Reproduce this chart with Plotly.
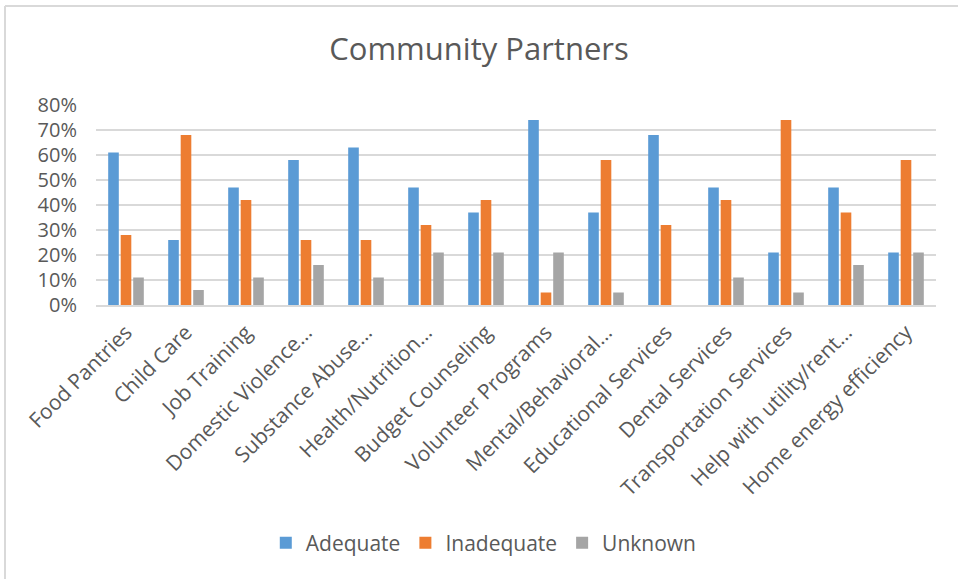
import plotly.graph_objects as go

categories = [
    "Food Pantries", "Child Care", "Job Training", "Domestic Violence…",
    "Substance Abuse…", "Health/Nutrition…", "Budget Counseling",
    "Volunteer Programs", "Mental/Behavioral…", "Educational Services",
    "Dental Services", "Transportation Services", "Help with utility/rent…",
    "Home energy efficiency",
]
adequate = [0.61, 0.26, 0.47, 0.58, 0.63, 0.47, 0.37, 0.74, 0.37, 0.68, 0.47, 0.21, 0.47, 0.21]
inadequate = [0.28, 0.68, 0.42, 0.26, 0.26, 0.32, 0.42, 0.05, 0.58, 0.32, 0.42, 0.74, 0.37, 0.58]
unknown = [0.11, 0.06, 0.11, 0.16, 0.11, 0.21, 0.21, 0.21, 0.05, 0.00, 0.11, 0.05, 0.16, 0.21]

series = [
    ("Adequate", adequate, "#5B9BD5"),
    ("Inadequate", inadequate, "#ED7D31"),
    ("Unknown", unknown, "#A5A5A5"),
]

FONT = "Open Sans"
TEXT = "#595959"

fig = go.Figure()
for name, vals, color in series:
    fig.add_trace(go.Bar(
        x=categories, y=vals, name=name,
        marker=dict(color=color, line=dict(width=0)),
    ))

fig.update_layout(
    width=958, height=579,
    margin=dict(l=96, r=22, t=105, b=274),
    paper_bgcolor="white", plot_bgcolor="white",
    barmode="group", bargap=0.375, bargroupgap=0.15,
    font=dict(family=FONT, color=TEXT),
    title=dict(text="Community Partners", x=0.5, xref="container", xanchor="center",
               y=1 - 49.5 / 579, yref="container", yanchor="middle",
               font=dict(size=31, color=TEXT, family=FONT)),
    legend=dict(orientation="h", xref="container", x=0.505, xanchor="center",
                yref="container", y=1 - 543 / 579, yanchor="middle",
                font=dict(size=21, color=TEXT, family=FONT),
                itemwidth=30, traceorder="normal"),
    showlegend=True,
    shapes=[
        # chart frame (top and left edges visible)
        dict(type="line", xref="paper", yref="paper",
             x0=(5 - 96) / 840, x1=1.2, y0=(305 - 6) / 200, y1=(305 - 6) / 200,
             line=dict(color="#D9D9D9", width=2), layer="below"),
        dict(type="line", xref="paper", yref="paper",
             x0=(5 - 96) / 840, x1=(5 - 96) / 840, y0=-2, y1=(305 - 6) / 200,
             line=dict(color="#D9D9D9", width=2), layer="below"),
    ],
)
fig.update_xaxes(tickangle=-45, tickfont=dict(size=21, color=TEXT, family=FONT),
                 ticklabelstandoff=5,
                 showline=True, linecolor="#D9D9D9", linewidth=1.5,
                 ticks="", showgrid=False)
fig.update_yaxes(range=[0, 0.8], dtick=0.1, tickformat=".0%",
                 tickfont=dict(size=20, color=TEXT, family=FONT),
                 ticklabelstandoff=18,
                 showgrid=True, gridcolor="#D9D9D9", gridwidth=1.5,
                 zeroline=False, showline=False, ticks="", ticklen=0)

fig.write_html("out.html")
